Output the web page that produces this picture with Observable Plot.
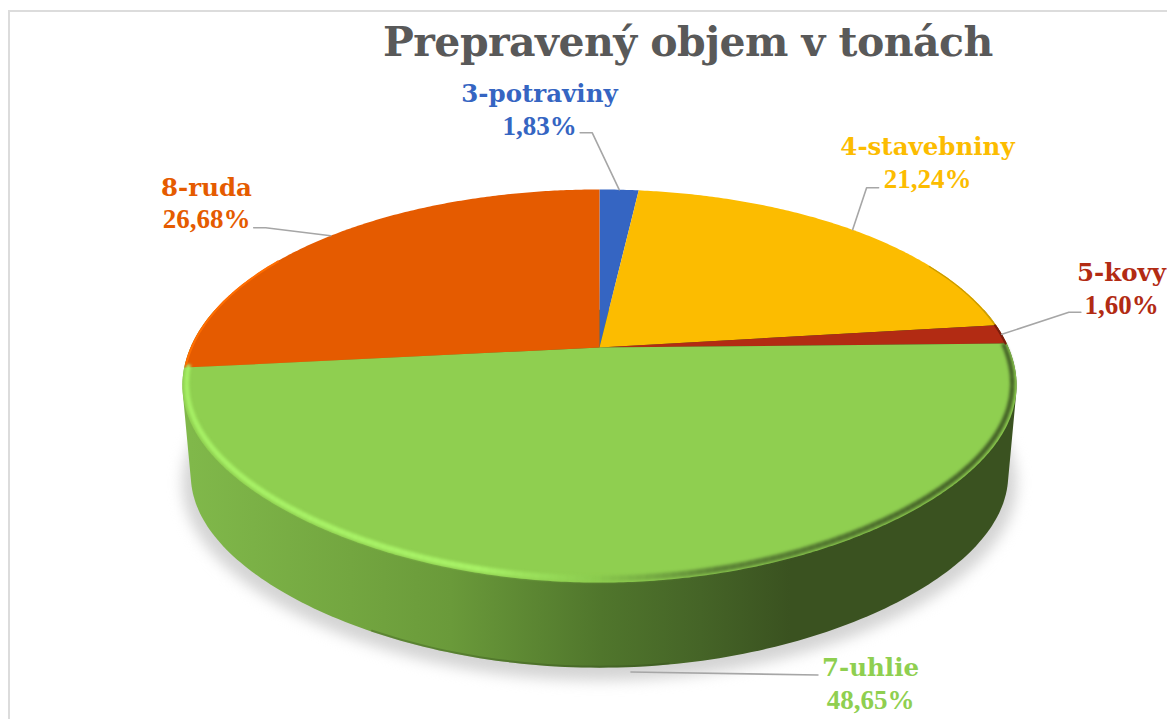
<!DOCTYPE html>
<html><head><meta charset="utf-8">
<script src="https://cdn.jsdelivr.net/npm/d3@7"></script>
<script src="https://cdn.jsdelivr.net/npm/@observablehq/plot@0.6"></script>
<style>
html,body{margin:0;padding:0;background:#fff;overflow:hidden}
#page{position:relative;width:1167px;height:719px;overflow:hidden}
#frame{position:absolute;left:8px;top:10px;width:1159px;height:709px;border-left:2px solid #dcdcdc;border-top:2px solid #dcdcdc;box-sizing:border-box}
#title{position:absolute;left:383px;top:14px;margin:0;height:56px;font:bold 41px/56px "DejaVu Serif",serif;color:#595959;white-space:nowrap;letter-spacing:-.54px}
#chart{position:absolute;left:0;top:70px}
svg{display:block;background:transparent!important}
</style></head><body>
<div id="page"><div id="frame"></div><h1 id="title">Prepravený objem v tonách</h1><div id="chart"></div></div>
<script>
// data
const categories = ["3-potraviny","4-stavebniny","5-kovy","7-uhlie","8-ruda"];
const shares = [1.83,21.24,1.60,48.65,26.68];
const shareLabels = ["1,83%","21,24%","1,60%","48,65%","26,68%"];
const colors = ["#3565c2","#fcbc00","#b22b13","#8fcf50","#e55b00"];
// layout (px offsets of elbow from the slice's rim anchor, label positions)
const elbowDx = [-27,14,67,187,-65];
const elbowDy = [-57,-42,-22,3,-8];
const stubDx = [-12,12,12,0,-12];
const labelX = [539,927,1121,870,206];
const nameBase = [101,154,280,675,195];
const valueBase = [134,187,313,708,227];

const W=1167,H=719,top0=70;
const cx=599,cy=347,R=409,S=189,p=0.196,depth=89,shrink=0.98,yc=387;
const project=(deg,r=1)=>{
  const a=deg*Math.PI/180,u=r*Math.sin(a),v=-r*Math.cos(a),d=1-p*v;
  const bend=(deg>90&&deg<270)?-5*r*Math.sin(2*(a-Math.PI/2))**2:0;
  return {x:cx+R*u/d,y:cy+S*v/d+bend,v};
};
const lower=(deg,extra=0,k=shrink)=>{const q=project(deg);return {x:cx+(q.x-cx)*k,y:yc+depth+extra+(q.y-yc)*k};};

// slices from the values
const total=d3.sum(shares);
let acc=0;
const slices=categories.map((name,i)=>{const a0=acc/total*360;acc+=shares[i];const a1=acc/total*360;return {name,i,a0,a1,mid:(a0+a1)/2,color:colors[i]};});
const range=(a,b,step=0.5)=>{const o=[];for(let t=a;t<b;t+=step)o.push(t);o.push(b);return o;};
const tops=slices.flatMap(s=>[{x:cx,y:cy,z:s.name,fill:s.color},...range(s.a0,s.a1).map(t=>({...project(t),z:s.name,fill:s.color}))]);

// wall: silhouette swept between the top rim and the lower rim
const wallStops=[[190,"#80b84a"],[350,"#73a640"],[450,"#6a9a3a"],[600,"#50762c"],[700,"#456427"],[790,"#3a5220"],[1020,"#3a5220"]];
const wallDefs=()=>{
  const ns="http://www.w3.org/2000/svg";
  const defs=document.createElementNS(ns,"defs"),g=document.createElementNS(ns,"linearGradient");
  g.setAttribute("id","wallGrad");g.setAttribute("gradientUnits","userSpaceOnUse");
  g.setAttribute("x1",wallStops[0][0]);g.setAttribute("x2",wallStops[wallStops.length-1][0]);g.setAttribute("y1",0);g.setAttribute("y2",0);
  for(const [x,c] of wallStops){const s=document.createElementNS(ns,"stop");s.setAttribute("offset",(x-190)/830);s.setAttribute("stop-color",c);g.append(s);}
  defs.append(g);return defs;
};
const wallAngles=range(78,282,1);
const wall=d3.polygonHull([...wallAngles.map(t=>project(t)),...wallAngles.map(t=>lower(t))].map(q=>[q.x,q.y])).map(([x,y])=>({x,y}));
const shadow=range(0,360,2).map(t=>lower(t,9,1.0));
const bottomEdge=range(172,208,1).map(t=>lower(t,-1));

// bevel
const rimColor=d3.scaleLinear().domain([180,480,600,720,1020]).range(["#a8f267","#a8f267","#8bcb4e","#5c8436","#3f5a24"]);
const green=slices[3];
const rim=range(green.a0,green.a1,1).slice(0,-1).flatMap((t,i)=>{
  const v=project(t).v,w=2.5+3.5*(v+1)/2,r=1-(0.004+0.01*(v+1)/2);
  const a=project(t,r),b=project(t+1,r);
  return [{x:a.x,y:a.y,z:i,s:rimColor(a.x),w},{x:b.x,y:b.y,z:i,s:rimColor(a.x),w}];
});
const accents=[[265,300,"#ff6d00",2],[62,83,"#c79a00",1.2],[slices[2].a0,slices[2].a1,"#7a1d0c",2]].flatMap(([a,b,s,w],j)=>range(a,b,1).map(t=>({...project(t,0.997),z:j,s,w})));

// leaders and labels
const leaders=slices.flatMap((s,i)=>{
  const a=i===3?lower(s.mid,5):project(s.mid);
  const e={x:a.x+elbowDx[i],y:a.y+elbowDy[i]};
  return [{...a,z:i},{...e,z:i},{x:e.x+stubDx[i],y:e.y,z:i}];
});
const names=slices.map((s,i)=>({text:s.name,x:labelX[i],y:nameBase[i],fill:s.color}));
const values=slices.map((s,i)=>({text:shareLabels[i],x:labelX[i],y:valueBase[i],fill:s.color}));

const chart=Plot.plot({
  width:W,height:H-top0,margin:0,
  x:{domain:[0,W],axis:null},y:{domain:[H,top0],axis:null},
  style:{background:"transparent"},
  marks:[
    wallDefs,
    Plot.line(shadow,{x:"x",y:"y",fill:"#d4d4d4",stroke:"none",imageFilter:"blur(7px)"}),
    Plot.line(wall,{x:"x",y:"y",fill:"url(#wallGrad)",stroke:"none"}),
    Plot.line(bottomEdge,{x:"x",y:"y",stroke:"#2f4519",strokeWidth:2,strokeOpacity:.3,imageFilter:"blur(.6px)"}),
    Plot.line(tops,{x:"x",y:"y",z:"z",fill:"fill",stroke:"none"}),
    Plot.line(rim,{x:"x",y:"y",z:"z",stroke:"s",strokeWidth:"w",strokeLinecap:"butt",imageFilter:"blur(1.5px)"}),
    Plot.line(accents,{x:"x",y:"y",z:"z",stroke:"s",strokeWidth:"w",imageFilter:"blur(.5px)"}),
    Plot.line(leaders,{x:"x",y:"y",z:"z",stroke:"#a6a6a6",strokeWidth:1.6}),
    Plot.text(names,{x:"x",y:"y",text:"text",fill:"fill",fontFamily:"DejaVu Serif",fontWeight:"bold",fontSize:24.5,textAnchor:"middle",lineAnchor:"bottom"}),
    Plot.text(values,{x:"x",y:"y",text:"text",fill:"fill",fontFamily:"Liberation Serif",fontWeight:"bold",fontSize:27,textAnchor:"middle",lineAnchor:"bottom"})
  ]
});
document.getElementById("chart").append(chart);
</script>
</body></html>
